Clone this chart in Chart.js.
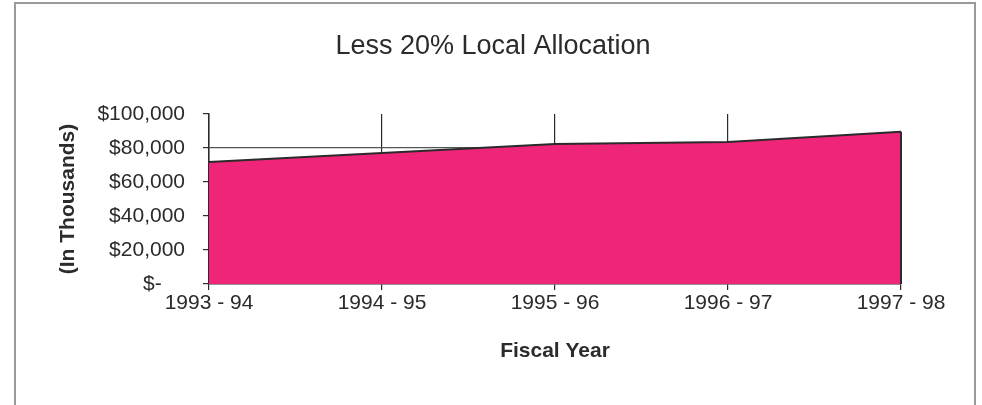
<!DOCTYPE html>
<html>
<head>
<meta charset="utf-8">
<script src="https://cdn.jsdelivr.net/npm/chart.js@4/dist/chart.umd.min.js"></script>
<style>
  html, body { margin: 0; padding: 0; background: #fff; }
  .wrap { position: relative; width: 982px; height: 405px; }
  .frame {
    position: absolute; left: 14px; top: 2px; width: 962px; height: 420px;
    border: 2px solid #9a9a9a; box-sizing: border-box;
  }
  canvas { position: absolute; left: 0; top: 0; }
</style>
</head>
<body>
<div class="wrap">
  <div class="frame"></div>
  <canvas id="allocChart" width="982" height="405"></canvas>
</div>
<script>
const fiscalYears = ['1993 - 94', '1994 - 95', '1995 - 96', '1996 - 97', '1997 - 98'];
const allocation = [71800, 77000, 82300, 83600, 89500]; // in thousands of dollars
const yTicks = [0, 20000, 40000, 60000, 80000, 100000];

const FONT = 'Arial, "Liberation Sans", sans-serif';
const ink = '#2b2b2b';

// closes the filled area on the right with a vertical edge
const rightEdge = {
  id: 'rightEdge',
  afterDatasetsDraw(chart) {
    const meta = chart.getDatasetMeta(0);
    const last = meta.data[meta.data.length - 1];
    const base = chart.scales.y.getPixelForValue(0);
    const c = chart.ctx;
    c.save();
    c.strokeStyle = ink;
    c.lineWidth = 2;
    c.beginPath();
    c.moveTo(last.x, last.y);
    c.lineTo(last.x, base);
    c.stroke();
    c.restore();
  }
};

const ctx = document.getElementById('allocChart').getContext('2d');

new Chart(ctx, {
  type: 'line',
  data: {
    labels: fiscalYears,
    datasets: [{
      data: allocation,
      fill: 'origin',
      backgroundColor: '#ef2579',
      borderColor: ink,
      borderWidth: 2,
      pointRadius: 0,
      tension: 0
    }]
  },
  options: {
    responsive: false,
    animation: false,
    // left padding keeps the title centred over the plot; the axis title is pulled back out
    layout: { padding: { left: 85, right: 81, top: 18, bottom: 41 } },
    plugins: {
      legend: { display: false },
      tooltip: { enabled: false },
      title: {
        display: true,
        text: 'Less 20% Local Allocation',
        color: ink,
        font: { family: FONT, size: 27, weight: 'normal' },
        padding: { top: 12, bottom: 51.6 }
      }
    },
    scales: {
      x: {
        offset: false,
        afterFit(scale) { scale.height = 80; },
        border: { display: true, color: ink, width: 1.5 },
        grid: {
          color: c => c.index === fiscalYears.length - 1 ? 'rgba(0,0,0,0)' : ink,
          tickColor: ink,
          lineWidth: 1.2,
          tickLength: 6,
          drawOnChartArea: true
        },
        ticks: {
          color: ink,
          padding: 1,
          maxRotation: 0,
          font: { family: FONT, size: 21 }
        },
        title: {
          display: true,
          text: 'Fiscal Year',
          color: ink,
          font: { family: FONT, size: 21, weight: 'bold' },
          padding: 0
        }
      },
      y: {
        min: 0,
        max: 100000,
        afterFit(scale) { scale.width = 124; },
        afterBuildTicks(scale) { scale.ticks = yTicks.map(v => ({ value: v })); },
        border: { display: true, color: ink, width: 1.5 },
        grid: {
          color: c => c.tick && c.tick.value === 80000 ? '#555' : 'rgba(0,0,0,0)',
          tickColor: ink,
          lineWidth: 1.2,
          tickLength: 6
        },
        ticks: {
          color: ink,
          padding: 18,
          font: { family: FONT, size: 21 },
          callback: v => v === 0 ? '$-    ' : '$' + v.toLocaleString('en-US')
        },
        title: {
          display: true,
          text: '(In Thousands)',
          color: ink,
          font: { family: FONT, size: 21, weight: 'bold' },
          padding: { top: -29.6, bottom: 0 }
        }
      }
    }
  },
  plugins: [rightEdge]
});
</script>
</body>
</html>
